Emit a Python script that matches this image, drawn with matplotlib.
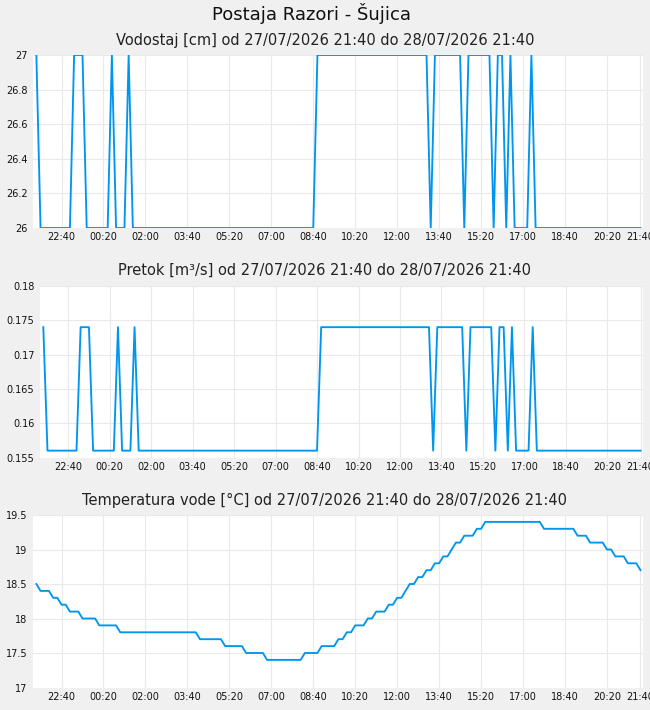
import numpy as np
import pandas as pd
import matplotlib
matplotlib.use("Agg")
import matplotlib.pyplot as plt
import matplotlib.dates as mdates

times = pd.date_range("2026-07-27 21:40", "2026-07-28 21:40", freq="10min")

level = [
    27, 26, 26, 26, 26, 26, 26, 26, 26, 27, 27, 27,
    26, 26, 26, 26, 26, 26, 27, 26, 26, 26, 27, 26,
    26, 26, 26, 26, 26, 26, 26, 26, 26, 26, 26, 26,
    26, 26, 26, 26, 26, 26, 26, 26, 26, 26, 26, 26,
    26, 26, 26, 26, 26, 26, 26, 26, 26, 26, 26, 26,
    26, 26, 26, 26, 26, 26, 26, 27, 27, 27, 27, 27,
    27, 27, 27, 27, 27, 27, 27, 27, 27, 27, 27, 27,
    27, 27, 27, 27, 27, 27, 27, 27, 27, 27, 26, 27,
    27, 27, 27, 27, 27, 27, 26, 27, 27, 27, 27, 27,
    27, 26, 27, 27, 26, 27, 26, 26, 26, 26, 27, 26,
    26, 26, 26, 26, 26, 26, 26, 26, 26, 26, 26, 26,
    26, 26, 26, 26, 26, 26, 26, 26, 26, 26, 26, 26,
    26,
]

flow = [
    0.174, 0.156, 0.156, 0.156, 0.156, 0.156, 0.156, 0.156, 0.156, 0.174, 0.174, 0.174,
    0.156, 0.156, 0.156, 0.156, 0.156, 0.156, 0.174, 0.156, 0.156, 0.156, 0.174, 0.156,
    0.156, 0.156, 0.156, 0.156, 0.156, 0.156, 0.156, 0.156, 0.156, 0.156, 0.156, 0.156,
    0.156, 0.156, 0.156, 0.156, 0.156, 0.156, 0.156, 0.156, 0.156, 0.156, 0.156, 0.156,
    0.156, 0.156, 0.156, 0.156, 0.156, 0.156, 0.156, 0.156, 0.156, 0.156, 0.156, 0.156,
    0.156, 0.156, 0.156, 0.156, 0.156, 0.156, 0.156, 0.174, 0.174, 0.174, 0.174, 0.174,
    0.174, 0.174, 0.174, 0.174, 0.174, 0.174, 0.174, 0.174, 0.174, 0.174, 0.174, 0.174,
    0.174, 0.174, 0.174, 0.174, 0.174, 0.174, 0.174, 0.174, 0.174, 0.174, 0.156, 0.174,
    0.174, 0.174, 0.174, 0.174, 0.174, 0.174, 0.156, 0.174, 0.174, 0.174, 0.174, 0.174,
    0.174, 0.156, 0.174, 0.174, 0.156, 0.174, 0.156, 0.156, 0.156, 0.156, 0.174, 0.156,
    0.156, 0.156, 0.156, 0.156, 0.156, 0.156, 0.156, 0.156, 0.156, 0.156, 0.156, 0.156,
    0.156, 0.156, 0.156, 0.156, 0.156, 0.156, 0.156, 0.156, 0.156, 0.156, 0.156, 0.156,
    0.156,
]

temp = [
    18.5, 18.4, 18.4, 18.4, 18.3, 18.3, 18.2, 18.2, 18.1, 18.1, 18.1, 18.0,
    18.0, 18.0, 18.0, 17.9, 17.9, 17.9, 17.9, 17.9, 17.8, 17.8, 17.8, 17.8,
    17.8, 17.8, 17.8, 17.8, 17.8, 17.8, 17.8, 17.8, 17.8, 17.8, 17.8, 17.8,
    17.8, 17.8, 17.8, 17.7, 17.7, 17.7, 17.7, 17.7, 17.7, 17.6, 17.6, 17.6,
    17.6, 17.6, 17.5, 17.5, 17.5, 17.5, 17.5, 17.4, 17.4, 17.4, 17.4, 17.4,
    17.4, 17.4, 17.4, 17.4, 17.5, 17.5, 17.5, 17.5, 17.6, 17.6, 17.6, 17.6,
    17.7, 17.7, 17.8, 17.8, 17.9, 17.9, 17.9, 18.0, 18.0, 18.1, 18.1, 18.1,
    18.2, 18.2, 18.3, 18.3, 18.4, 18.5, 18.5, 18.6, 18.6, 18.7, 18.7, 18.8,
    18.8, 18.9, 18.9, 19.0, 19.1, 19.1, 19.2, 19.2, 19.2, 19.3, 19.3, 19.4,
    19.4, 19.4, 19.4, 19.4, 19.4, 19.4, 19.4, 19.4, 19.4, 19.4, 19.4, 19.4,
    19.4, 19.3, 19.3, 19.3, 19.3, 19.3, 19.3, 19.3, 19.3, 19.2, 19.2, 19.2,
    19.1, 19.1, 19.1, 19.1, 19.0, 19.0, 18.9, 18.9, 18.9, 18.8, 18.8, 18.8,
    18.7,
]

tick_labels = ["22:40", "00:20", "02:00", "03:40", "05:20", "07:00", "08:40",
               "10:20", "12:00", "13:40", "15:20", "17:00", "18:40", "20:20", "21:40"]
tick_times = pd.to_datetime([
    "2026-07-27 22:40", "2026-07-28 00:20", "2026-07-28 02:00", "2026-07-28 03:40",
    "2026-07-28 05:20", "2026-07-28 07:00", "2026-07-28 08:40", "2026-07-28 10:20",
    "2026-07-28 12:00", "2026-07-28 13:40", "2026-07-28 15:20", "2026-07-28 17:00",
    "2026-07-28 18:40", "2026-07-28 20:20", "2026-07-28 21:40"])

main_title = "Postaja Razori - Šujica"
panel_titles = [
    "Vodostaj [cm] od 27/07/2026 21:40 do 28/07/2026 21:40",
    "Pretok [m³/s] od 27/07/2026 21:40 do 28/07/2026 21:40",
    "Temperatura vode [°C] od 27/07/2026 21:40 do 28/07/2026 21:40",
]
yticks_level = [26, 26.2, 26.4, 26.6, 26.8, 27]
ylabels_level = ["26", "26.2", "26.4", "26.6", "26.8", "27"]
yticks_flow = [0.155, 0.16, 0.165, 0.17, 0.175, 0.18]
ylabels_flow = ["0.155", "0.16", "0.165", "0.17", "0.175", "0.18"]
yticks_temp = [17, 17.5, 18, 18.5, 19, 19.5]
ylabels_temp = ["17", "17.5", "18", "18.5", "19", "19.5"]

W, H = 650, 710
BG = "#f0f0f0"
LINE = "#0096ee"
GRID = "#e9e9e9"

fig = plt.figure(figsize=(W / 100, H / 100), dpi=100, facecolor=BG)

def px_axes(left, right, top, bottom):
    return fig.add_axes([left / W, 1 - bottom / H, (right - left) / W, (bottom - top) / H])

t0 = pd.Timestamp("2026-07-27 21:40")
xlim = (mdates.date2num(t0 - pd.Timedelta(minutes=8)),
        mdates.date2num(t0 + pd.Timedelta(minutes=1446)))

specs = [
    (px_axes(33, 643, 55, 228), level, (26, 27), yticks_level, ylabels_level, 40),
    (px_axes(40, 643, 286, 457.5), flow, (0.155, 0.18), yticks_flow, ylabels_flow, 270),
    (px_axes(33, 643, 515, 687.5), temp, (17, 19.5), yticks_temp, ylabels_temp, 500),
]

for (ax, vals, ylim, yt, yl, ty), title in zip(specs, panel_titles):
    ax.set_facecolor("white")
    for s in ax.spines.values():
        s.set_visible(False)
    ax.plot(times, vals, color=LINE, lw=1.35, antialiased=True, zorder=3)
    ax.set_xlim(*xlim)
    ax.set_ylim(*ylim)
    ax.set_yticks(yt)
    ax.set_yticklabels(yl)
    ax.set_xticks(mdates.date2num(tick_times))
    ax.set_xticklabels(tick_labels)
    ax.grid(True, color=GRID, lw=0.8, zorder=0)
    ax.set_axisbelow(True)
    ax.tick_params(length=0, labelsize=7, colors="#111111")
    ax.tick_params(axis="y", pad=4)
    ax.tick_params(axis="x", pad=3)
    fig.text(0.5, 1 - ty / H, title, ha="center", va="center", fontsize=10.5, color="#222222")

fig.text(312 / W, 1 - 14 / H, main_title, ha="center", va="center", fontsize=13, color="#111111")

fig.savefig("out.png", dpi=100, facecolor=BG)
